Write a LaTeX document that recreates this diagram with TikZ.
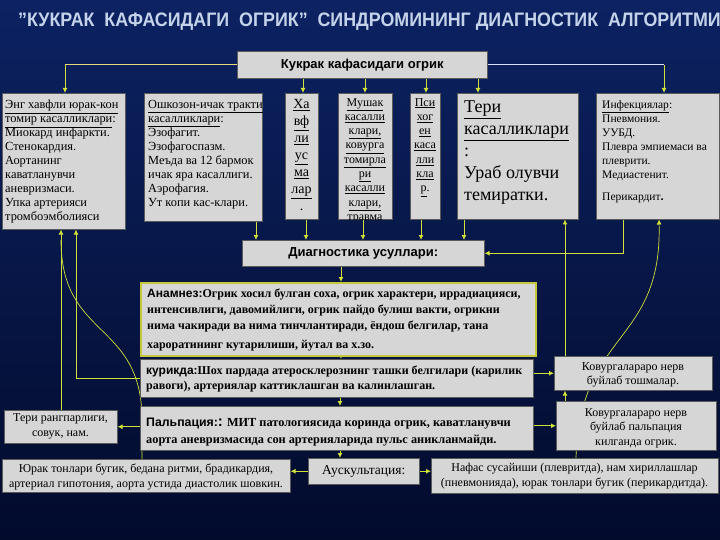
\documentclass[tikz,border=0pt]{standalone}
\usepackage{fontspec}
\setmainfont{Liberation Serif}
\setsansfont{Liberation Sans}
\usetikzlibrary{arrows.meta}
\definecolor{bgtop}{HTML}{0C2262}
\definecolor{bgbot}{HTML}{020B2C}
\definecolor{boxgray}{HTML}{D6D6D6}
\definecolor{boxedge}{HTML}{5A5A5A}
\definecolor{ylw}{HTML}{D2E03A}
\definecolor{pale}{HTML}{D6E0F2}
\definecolor{paleylw}{HTML}{E6DA7A}
\definecolor{titlec}{HTML}{C5D3EA}
\definecolor{olive}{HTML}{C4C83A}
\pgfdeclarelayer{back}
\pgfdeclarelayer{lines}
\pgfsetlayers{back,lines,main}
\begin{document}
\begin{tikzpicture}[x=1pt,y=-1pt,
  box/.style={draw=boxedge, line width=0.5pt, fill=boxgray, inner sep=0pt, anchor=north west},
  txt/.style={inner sep=0pt, anchor=north west, align=left, text=black},
  ctxt/.style={inner sep=0pt, align=center, text=black},
  conn/.style={draw=ylw, line width=1pt, -{Latex[length=5pt,width=5pt]}},
  link/.style={draw=ylw, line width=0.8pt},
  f12/.style={font=\fontsize{12.4}{14}\selectfont},
]
\useasboundingbox (0,0) rectangle (720,540);
\begin{pgfonlayer}{back}
\shade[top color=bgtop, bottom color=bgbot] (0,0) rectangle (720,540);
\end{pgfonlayer}

% title
\node[anchor=west, inner sep=0pt, text=titlec, font=\sffamily\bfseries\fontsize{19.5}{22}\selectfont] (title) at (18,22)
  {\scalebox{0.915}[1]{”КУКРАК\ \ КАФАСИДАГИ\ \ ОГРИК”\ \ СИНДРОМИНИНГ ДИАГНОСТИК\ \ АЛГОРИТМИ}};

% top box
\node[box, minimum width=250, minimum height=27] (top) at (237,51) {};
\node[ctxt, font=\sffamily\bfseries\fontsize{13}{15}\selectfont] (toptx) at (top.center) {Кукрак кафасидаги огрик};

% row of boxes
\node[box, minimum width=123, minimum height=136] (b1) at (2,93) {};
\node[txt, f12] (t1) at (5,100) {\underline{Энг хавфли юрак-кон}\\ \underline{томир касалликлари}:\\ Миокард инфаркти.\\ Стенокардия.\\ Аортанинг\\ каватланувчи\\ аневризмаси.\\ Упка артерияси\\ тромбоэмболияси};

\node[box, minimum width=118, minimum height=128] (b2) at (144,93) {};
\node[txt, f12] (t2) at (148,100) {\underline{Ошкозон-ичак тракти}\\ \underline{касалликлари}:\\ Эзофагит.\\ Эзофагоспазм.\\ Меъда ва 12 бармок\\ ичак яра касаллиги.\\ Аэрофагия.\\ Ут копи кас-клари.};

\node[box, minimum width=33, minimum height=126] (b3) at (285,93) {};
\node[ctxt, anchor=north, font=\fontsize{14}{17}\selectfont] (t3) at (301.5,99) {\underline{Ха}\\ \underline{вф}\\ \underline{ли}\\ \underline{ус}\\ \underline{ма}\\ \underline{лар}\\ .};

\node[box, minimum width=54, minimum height=126] (b4) at (338,93) {};
\begin{scope}
\clip (b4.north west) rectangle (b4.south east);
\node[ctxt, anchor=north, font=\fontsize{12}{14.3}\selectfont] (t4) at (365,98) {\underline{Мушак}\\ \underline{касалли}\\ \underline{клари,}\\ \underline{ковурга}\\ \underline{томирла}\\ \underline{ри}\\ \underline{касалли}\\ \underline{клари,}\\ \underline{травма}};
\end{scope}

\node[box, minimum width=30, minimum height=126] (b5) at (410,93) {};
\node[ctxt, anchor=north, font=\fontsize{12}{14.3}\selectfont] (t5) at (425,98) {\underline{Пси}\\ \underline{хог}\\ \underline{ен}\\ \underline{каса}\\ \underline{лли}\\ \underline{кла}\\ \underline{р}.};

\node[box, minimum width=121, minimum height=126] (b6) at (457,93) {};
\node[txt, font=\fontsize{18}{22}\selectfont] (t6) at (464,101) {\underline{Тери}\\ \underline{касалликлари}\\ :\\ Ураб олувчи\\ темиратки.};

\node[box, minimum width=123, minimum height=126] (b7) at (596,93) {};
\node[txt, font=\fontsize{11.5}{14}\selectfont] (t7) at (602,100.5) {\underline{Инфекциялар}:\\ Пневмония.\\ УУБД.\\ Плевра эмпиемаси ва\\ плеврити.\\ Медиастенит.\\[8pt] Перикардит{\sffamily\bfseries .}};

% diagnostics
\node[box, minimum width=242, minimum height=26] (diag) at (242,240) {};
\node[ctxt, font=\sffamily\bfseries\fontsize{13}{15}\selectfont] (diagtx) at (diag.center) {Диагностика усуллари:};

% anamnez
\node[box, draw=olive, line width=2pt, minimum width=395, minimum height=73] (anam) at (140,282) {};
\node[txt, font=\bfseries\fontsize{12}{16}\selectfont] (anamtx) at (147,289) {{\sffamily Анамнез:}Огрик хосил булган соха, огрик характери, иррадиацияси,\\ интенсивлиги, давомийлиги, огрик пайдо булиш вакти, огрикни\\ нима чакиради ва нима тинчлантиради, ёндош белгилар, тана\\[3pt] хароратининг кутарилиши, йутал ва х.зо.};

% kurikda
\node[box, minimum width=393, minimum height=38] (kur) at (140,359) {};
\node[txt, font=\bfseries\fontsize{12}{15.5}\selectfont] (kurtx) at (146,365.5) {{\sffamily курикда:}Шох пардада атеросклерознинг ташки белгилари (карилик\\ равоги), артериялар каттиклашган ва калинлашган.};

% palpatsiya
\node[box, minimum width=393, minimum height=44] (palp) at (140,406) {};
\node[txt, font=\bfseries\fontsize{12.3}{17}\selectfont] (palptx) at (146,417.5) {{\sffamily Пальпация:}{\sffamily\fontsize{15}{17}\selectfont :} МИТ патологиясида коринда огрик, каватланувчи\\ аорта аневризмасида сон артерияларида пульс аникланмайди.};

% right boxes
\node[box, minimum width=158, minimum height=34] (kov1) at (554,356) {};
\node[ctxt, font=\fontsize{12}{14.5}\selectfont] (kov1tx) at (633,375) {Ковургалараро нерв\\ буйлаб тошмалар.};
\node[box, minimum width=160, minimum height=49] (kov2) at (556,401) {};
\node[ctxt, font=\fontsize{12}{14.5}\selectfont] (kov2tx) at (636,428) {Ковургалараро нерв\\ буйлаб пальпация\\ килганда огрик.};

% left box
\node[box, minimum width=113, minimum height=33] (teri) at (4,410) {};
\node[ctxt, font=\fontsize{12}{15}\selectfont] (teritx) at (60.5,426.5) {Тери рангпарлиги,\\ совук, нам.};

% bottom row
\node[box, minimum width=288, minimum height=33] (yurak) at (2,459) {};
\node[ctxt, font=\fontsize{12}{15}\selectfont] (yuraktx) at (146,476.5) {Юрак тонлари бугик, бедана ритми, брадикардия,\\ артериал гипотония, аорта устида диастолик шовкин.};
\node[box, minimum width=111, minimum height=26] (ausc) at (308,458) {};
\node[ctxt, font=\fontsize{13.5}{16}\selectfont] (ausctx) at (ausc.center) {Аускультация:};
\node[box, minimum width=287, minimum height=35] (nafas) at (431,458) {};
\node[ctxt, font=\fontsize{12}{15}\selectfont] (nafastx) at (574.5,476.5) {Нафас сусайиши (плевритда), нам хириллашлар\\ (пневмонияда), юрак тонлари бугик (перикардитда).};

% connectors
\begin{pgfonlayer}{lines}
\draw[link, paleylw] (top.west) -- (top.west -| 65,0);
\draw[conn] (top.west -| 65,0) -- (b1.north -| 65,0);
\draw[link, pale] (top.east) -- (top.east -| 664,0);
\draw[conn] (top.east -| 664,0) -- (b7.north -| 664,0);
\draw[conn] (top.south -| 303,0) -- (b3.north -| 303,0);
\draw[conn] (top.south -| 365,0) -- (b4.north -| 365,0);
\draw[conn] (top.south -| 426,0) -- (b5.north -| 426,0);
\draw[conn] (top.south -| 478,0) -- (b6.north -| 478,0);

\draw[conn] (b2.south -| 256,0) -- (diag.north -| 256,0);
\draw[conn] (b3.south -| 306,0) -- (diag.north -| 306,0);
\draw[conn] (b4.south -| 363,0) -- (diag.north -| 363,0);
\draw[conn] (b5.south -| 421,0) -- (diag.north -| 421,0);
\draw[conn] (b6.south -| 464,0) -- (diag.north -| 464,0);
\draw[conn] (b7.south -| 623,0) |- (diag.east);

\draw[conn] (diag.south -| 341,0) -- (anam.north -| 341,0);
\draw[conn] (anam.south -| 341,0) -- (kur.north -| 341,0);
\draw[conn] (kur.south -| 340,0) -- (palp.north -| 340,0);
\draw[conn] (palp.south -| 340,0) -- (ausc.north -| 340,0);
\draw[conn] (ausc.west) -- (ausc.west -| yurak.east);
\draw[conn] (ausc.east) -- (ausc.east -| nafas.west);
\draw[conn] (palp.west |- teri.east) -- (teri.east);
\draw[conn] (palp.east |- kov2.west) -- (kov2.west);
\draw[conn] (kur.east |- kov1.west) -- (kov1.west);
\draw[conn] (kov2.north -| 565,0) -- (kov1.south -| 565,0);
\draw[conn] (kov1.north -| 565,0) -- (b6.south -| 565,0);
\draw[conn] (kur.west) -| (b1.south -| 76,0);
\draw[conn] (teri.north -| 61,0) -- (b1.south -| 61,0);
\draw[link, line width=0.7pt] (yurak.north -| 142,0) -- (142,420) .. controls (142,320) and (61,340) .. (61,240);
\draw[line width=0.7pt, draw=ylw, -{Latex[length=5pt,width=5pt]}] (nafas.north -| 576,0) .. controls (580,330) and (662,345) .. (b7.south -| 659,0);
\end{pgfonlayer}
\end{tikzpicture}
\end{document}
